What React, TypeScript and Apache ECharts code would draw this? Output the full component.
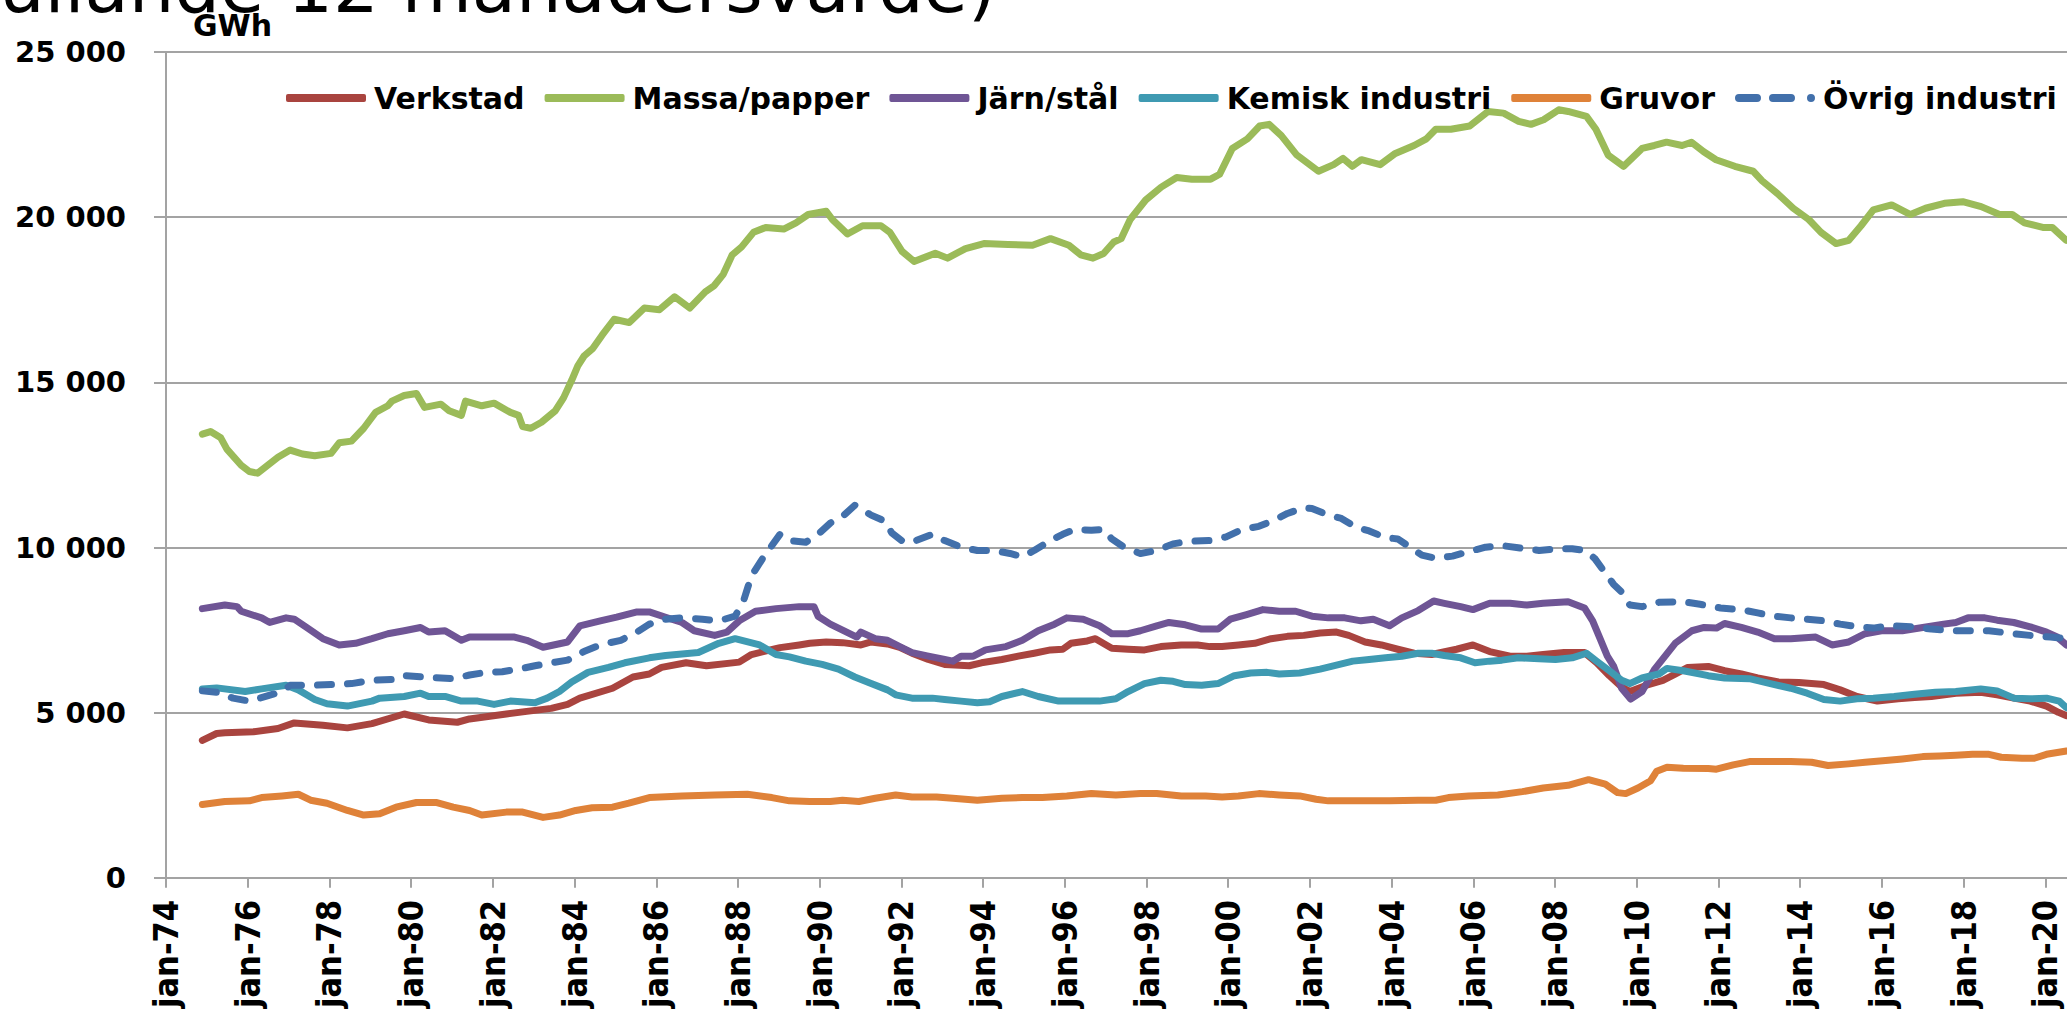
import React, { useEffect, useRef } from 'react';
import * as echarts from 'echarts';

const seriesNames = ['Verkstad', 'Massa/papper', 'Järn/stål', 'Kemisk industri', 'Gruvor', 'Övrig industri'];
const seriesColors = ['#A9443F', '#9BBB59', '#6F5595', '#3F9AB2', '#DF8239', '#4270AB'];

const verkstad: [number, number][] = [
  [1974.89, 4160], [1975.24, 4370], [1975.44, 4390], [1976.14, 4420], [1976.74, 4520], [1977.14, 4690], [1977.84, 4620],
  [1978.44, 4540], [1979.04, 4670], [1979.83, 4960], [1980.43, 4780], [1981.13, 4710], [1981.43, 4810], [1982.33, 4960],
  [1982.83, 5040], [1983.43, 5130], [1983.83, 5250], [1984.13, 5440], [1984.93, 5740], [1985.43, 6080], [1985.83, 6170],
  [1986.13, 6370], [1986.73, 6510], [1987.23, 6420], [1988.03, 6530], [1988.33, 6760], [1989.03, 6970], [1989.5, 7050],
  [1989.76, 7100], [1990.16, 7140], [1990.56, 7120], [1991.01, 7050], [1991.26, 7140], [1991.66, 7080], [1991.96, 6980],
  [1992.26, 6800], [1992.66, 6610], [1993.06, 6460], [1993.66, 6420], [1993.96, 6510], [1994.46, 6610], [1994.86, 6710],
  [1995.25, 6800], [1995.65, 6900], [1995.95, 6920], [1996.15, 7100], [1996.55, 7170], [1996.75, 7240], [1997.15, 6950],
  [1997.55, 6920], [1997.95, 6900], [1998.35, 7000], [1998.85, 7050], [1999.25, 7050], [1999.55, 7000], [1999.85, 7000],
  [2000.25, 7050], [2000.65, 7100], [2001.05, 7240], [2001.45, 7310], [2001.85, 7340], [2002.25, 7410], [2002.65, 7440],
  [2002.95, 7340], [2003.35, 7140], [2003.75, 7050], [2004.15, 6920], [2004.55, 6800], [2004.98, 6760], [2005.59, 6920],
  [2005.99, 7050], [2006.4, 6850], [2006.9, 6710], [2007.31, 6710], [2007.71, 6760], [2008.22, 6820], [2008.72, 6820],
  [2009.02, 6510], [2009.33, 6120], [2009.63, 5780], [2009.83, 5640], [2010.24, 5830], [2010.64, 5980], [2010.94, 6170],
  [2011.25, 6370], [2011.75, 6400], [2012.15, 6270], [2012.56, 6170], [2012.96, 6050], [2013.47, 5930], [2013.97, 5910],
  [2014.58, 5850], [2014.98, 5690], [2015.39, 5490], [2015.89, 5350], [2016.4, 5420], [2016.8, 5460], [2017.21, 5490],
  [2017.81, 5590], [2018.42, 5620], [2018.82, 5540], [2019.23, 5440], [2019.63, 5350], [2020.03, 5200], [2020.32, 5010],
  [2020.52, 4910],
];

const massaPapper: [number, number][] = [
  [1974.89, 13430], [1975.09, 13510], [1975.34, 13320], [1975.49, 12980], [1975.84, 12490], [1976.04, 12300], [1976.24, 12250],
  [1976.49, 12490], [1976.74, 12730], [1977.04, 12950], [1977.34, 12830], [1977.64, 12780], [1978.04, 12850], [1978.24, 13170],
  [1978.54, 13220], [1978.84, 13610], [1979.13, 14090], [1979.43, 14290], [1979.53, 14430], [1979.83, 14600], [1980.13, 14660],
  [1980.33, 14240], [1980.73, 14340], [1980.93, 14140], [1981.23, 14000], [1981.33, 14430], [1981.73, 14290], [1982.03, 14370],
  [1982.43, 14090], [1982.63, 14000], [1982.73, 13660], [1982.93, 13610], [1983.19, 13790], [1983.53, 14140], [1983.73, 14530],
  [1983.93, 15060], [1984.08, 15500], [1984.23, 15790], [1984.45, 16030], [1984.67, 16420], [1984.97, 16910], [1985.34, 16810],
  [1985.71, 17250], [1986.08, 17200], [1986.45, 17590], [1986.82, 17250], [1987.2, 17740], [1987.42, 17930], [1987.64, 18270],
  [1987.86, 18860], [1988.09, 19100], [1988.38, 19540], [1988.68, 19690], [1989.12, 19640], [1989.42, 19830], [1989.72, 20080],
  [1990.16, 20180], [1990.31, 19930], [1990.68, 19490], [1991.05, 19740], [1991.5, 19740], [1991.72, 19540], [1992.02, 18960],
  [1992.31, 18660], [1992.83, 18910], [1993.13, 18760], [1993.57, 19050], [1994.02, 19200], [1994.61, 19170], [1995.21, 19150],
  [1995.65, 19350], [1996.1, 19150], [1996.39, 18860], [1996.69, 18760], [1996.95, 18900], [1997.2, 19250], [1997.38, 19350],
  [1997.6, 19930], [1997.98, 20520], [1998.36, 20910], [1998.74, 21200], [1999.11, 21150], [1999.57, 21150], [1999.79, 21300],
  [2000.1, 22080], [2000.47, 22370], [2000.77, 22760], [2001.0, 22810], [2001.3, 22470], [2001.68, 21880], [2002.21, 21390],
  [2002.58, 21590], [2002.81, 21780], [2003.04, 21540], [2003.26, 21740], [2003.72, 21590], [2004.09, 21930], [2004.55, 22170],
  [2004.85, 22370], [2005.08, 22660], [2005.45, 22660], [2005.91, 22760], [2006.36, 23200], [2006.74, 23150], [2007.11, 22900],
  [2007.41, 22810], [2007.72, 22950], [2008.09, 23250], [2008.32, 23200], [2008.77, 23050], [2009.0, 22660], [2009.3, 21880],
  [2009.68, 21540], [2010.13, 22080], [2010.43, 22170], [2010.73, 22270], [2011.11, 22170], [2011.34, 22270], [2011.64, 21980],
  [2011.94, 21740], [2012.4, 21540], [2012.85, 21390], [2013.07, 21100], [2013.45, 20710], [2013.83, 20270], [2014.21, 19930],
  [2014.51, 19540], [2014.88, 19200], [2015.19, 19300], [2015.49, 19740], [2015.79, 20220], [2016.24, 20370], [2016.7, 20080],
  [2017.07, 20270], [2017.53, 20420], [2017.98, 20470], [2018.43, 20320], [2018.88, 20080], [2019.19, 20080], [2019.49, 19830],
  [2019.94, 19690], [2020.17, 19690], [2020.51, 19300],
];

const jarnStal: [number, number][] = [
  [1974.89, 8150], [1975.44, 8260], [1975.74, 8210], [1975.84, 8070], [1976.34, 7870], [1976.54, 7730], [1976.94, 7870],
  [1977.14, 7830], [1977.44, 7580], [1977.84, 7240], [1978.24, 7050], [1978.64, 7100], [1979.04, 7240], [1979.43, 7390],
  [1979.83, 7480], [1980.23, 7580], [1980.43, 7440], [1980.83, 7480], [1981.23, 7190], [1981.43, 7290], [1982.33, 7290],
  [1982.53, 7290], [1982.83, 7190], [1983.23, 6980], [1983.83, 7140], [1984.13, 7630], [1984.63, 7780], [1985.03, 7890],
  [1985.53, 8050], [1985.83, 8050], [1986.23, 7890], [1986.63, 7730], [1986.93, 7480], [1987.43, 7340], [1987.73, 7440],
  [1988.03, 7780], [1988.43, 8070], [1988.93, 8150], [1989.5, 8210], [1989.86, 8210], [1989.96, 7920], [1990.26, 7680],
  [1990.66, 7440], [1990.91, 7290], [1991.01, 7440], [1991.36, 7240], [1991.66, 7190], [1991.96, 7000], [1992.26, 6820],
  [1992.66, 6710], [1993.06, 6610], [1993.26, 6560], [1993.46, 6710], [1993.76, 6710], [1994.06, 6900], [1994.56, 7000],
  [1994.96, 7190], [1995.35, 7480], [1995.75, 7680], [1996.05, 7870], [1996.45, 7830], [1996.85, 7630], [1997.15, 7390],
  [1997.55, 7390], [1997.85, 7480], [1998.25, 7630], [1998.55, 7730], [1998.95, 7660], [1999.35, 7530], [1999.75, 7530],
  [2000.05, 7830], [2000.45, 7970], [2000.85, 8120], [2001.25, 8070], [2001.65, 8070], [2002.05, 7920], [2002.45, 7870],
  [2002.85, 7870], [2003.25, 7780], [2003.55, 7830], [2003.95, 7630], [2004.25, 7870], [2004.65, 8090], [2005.03, 8380],
  [2005.29, 8310], [2005.69, 8210], [2005.99, 8120], [2006.4, 8310], [2006.9, 8310], [2007.31, 8260], [2007.71, 8310],
  [2008.32, 8360], [2008.72, 8170], [2008.92, 7780], [2009.12, 7190], [2009.28, 6710], [2009.43, 6420], [2009.63, 5740],
  [2009.85, 5410], [2010.13, 5640], [2010.44, 6320], [2010.94, 7100], [2011.35, 7480], [2011.65, 7580], [2011.95, 7560],
  [2012.15, 7700], [2012.56, 7580], [2012.96, 7440], [2013.37, 7240], [2013.77, 7240], [2014.38, 7290], [2014.78, 7050],
  [2015.19, 7140], [2015.59, 7390], [2015.99, 7480], [2016.5, 7480], [2017.0, 7580], [2017.51, 7680], [2017.81, 7730],
  [2018.11, 7870], [2018.52, 7870], [2018.82, 7800], [2019.23, 7730], [2019.63, 7600], [2020.03, 7440], [2020.29, 7290],
  [2020.52, 7050],
];

const kemiskIndustri: [number, number][] = [
  [1974.89, 5720], [1975.24, 5750], [1975.94, 5640], [1976.34, 5720], [1976.94, 5830], [1977.24, 5690], [1977.64, 5400],
  [1977.94, 5270], [1978.44, 5200], [1979.04, 5350], [1979.23, 5440], [1979.83, 5490], [1980.23, 5590], [1980.43, 5490],
  [1980.83, 5490], [1981.23, 5350], [1981.63, 5350], [1982.03, 5250], [1982.43, 5350], [1983.03, 5300], [1983.33, 5440],
  [1983.63, 5640], [1983.93, 5930], [1984.33, 6220], [1984.83, 6370], [1985.23, 6510], [1985.83, 6660], [1986.23, 6730],
  [1987.03, 6820], [1987.53, 7100], [1987.93, 7240], [1988.53, 7050], [1988.93, 6760], [1989.26, 6690], [1989.66, 6560],
  [1990.06, 6460], [1990.46, 6320], [1990.86, 6080], [1991.26, 5880], [1991.66, 5690], [1991.86, 5540], [1992.26, 5440],
  [1992.76, 5440], [1993.06, 5400], [1993.46, 5350], [1993.86, 5300], [1994.16, 5330], [1994.46, 5490], [1994.96, 5640],
  [1995.35, 5490], [1995.85, 5350], [1996.25, 5350], [1996.85, 5350], [1997.25, 5420], [1997.55, 5640], [1997.95, 5880],
  [1998.35, 5980], [1998.65, 5950], [1998.95, 5850], [1999.35, 5830], [1999.75, 5880], [2000.15, 6120], [2000.55, 6200],
  [2000.95, 6220], [2001.25, 6170], [2001.75, 6200], [2002.25, 6320], [2002.65, 6440], [2003.05, 6560], [2003.45, 6610],
  [2003.85, 6660], [2004.25, 6710], [2004.65, 6800], [2004.98, 6800], [2005.29, 6730], [2005.69, 6660], [2006.04, 6510],
  [2006.4, 6560], [2006.7, 6590], [2007.1, 6660], [2007.61, 6630], [2008.01, 6610], [2008.42, 6660], [2008.77, 6800],
  [2009.02, 6560], [2009.33, 6270], [2009.63, 5980], [2009.83, 5880], [2010.13, 6050], [2010.54, 6170], [2010.74, 6340],
  [2011.14, 6270], [2011.75, 6120], [2012.15, 6050], [2012.76, 6030], [2013.27, 5880], [2013.77, 5740], [2014.17, 5590],
  [2014.58, 5400], [2014.98, 5350], [2015.39, 5420], [2015.79, 5440], [2016.3, 5490], [2016.8, 5560], [2017.31, 5620],
  [2017.81, 5640], [2018.42, 5720], [2018.82, 5660], [2019.23, 5440], [2019.63, 5420], [2020.03, 5440], [2020.34, 5350],
  [2020.52, 5150],
];

const gruvor: [number, number][] = [
  [1974.89, 2220], [1975.44, 2310], [1976.04, 2330], [1976.34, 2430], [1976.84, 2480], [1977.24, 2530], [1977.54, 2350],
  [1977.94, 2260], [1978.44, 2040], [1978.84, 1900], [1979.23, 1940], [1979.63, 2140], [1980.13, 2280], [1980.63, 2280],
  [1981.03, 2140], [1981.43, 2040], [1981.73, 1900], [1982.33, 1990], [1982.73, 1990], [1983.23, 1830], [1983.63, 1900],
  [1984.03, 2040], [1984.43, 2120], [1984.93, 2140], [1985.33, 2260], [1985.83, 2430], [1986.63, 2480], [1987.43, 2510],
  [1988.23, 2530], [1988.83, 2430], [1989.26, 2330], [1989.76, 2310], [1990.26, 2310], [1990.56, 2350], [1990.96, 2310],
  [1991.36, 2410], [1991.86, 2510], [1992.26, 2450], [1992.86, 2450], [1993.26, 2410], [1993.86, 2350], [1994.46, 2410],
  [1994.96, 2430], [1995.45, 2430], [1996.05, 2480], [1996.65, 2550], [1997.25, 2510], [1997.85, 2550], [1998.25, 2550],
  [1998.85, 2480], [1999.45, 2480], [1999.85, 2450], [2000.25, 2480], [2000.75, 2550], [2001.25, 2510], [2001.75, 2480],
  [2002.15, 2380], [2002.45, 2330], [2003.25, 2330], [2003.95, 2330], [2004.65, 2350], [2005.08, 2350], [2005.39, 2430],
  [2005.89, 2480], [2006.6, 2510], [2007.2, 2610], [2007.71, 2720], [2008.32, 2800], [2008.82, 2970], [2009.23, 2840],
  [2009.53, 2580], [2009.73, 2550], [2010.03, 2720], [2010.34, 2940], [2010.49, 3230], [2010.74, 3350], [2011.14, 3320],
  [2011.75, 3310], [2011.95, 3290], [2012.36, 3420], [2012.76, 3520], [2013.27, 3520], [2013.77, 3520], [2014.28, 3500],
  [2014.68, 3400], [2015.19, 3450], [2015.59, 3500], [2016.09, 3550], [2016.5, 3600], [2017.0, 3670], [2017.41, 3690],
  [2017.81, 3710], [2018.22, 3740], [2018.62, 3740], [2018.92, 3650], [2019.43, 3620], [2019.73, 3620], [2020.03, 3740],
  [2020.52, 3840],
];

const ovrigIndustri: [number, number][] = [
  [1974.89, 5660], [1975.24, 5620], [1975.64, 5440], [1976.04, 5350], [1976.44, 5490], [1976.84, 5640], [1977.04, 5830],
  [1977.54, 5830], [1978.04, 5850], [1978.54, 5880], [1979.04, 5980], [1979.63, 6010], [1979.83, 6120], [1980.33, 6080],
  [1980.73, 6050], [1981.03, 6030], [1981.43, 6140], [1981.83, 6220], [1982.23, 6240], [1982.63, 6320], [1983.03, 6420],
  [1983.43, 6510], [1983.83, 6590], [1984.23, 6850], [1984.63, 7050], [1985.13, 7190], [1985.53, 7440], [1985.83, 7680],
  [1986.23, 7830], [1986.63, 7870], [1987.13, 7830], [1987.53, 7780], [1987.93, 7920], [1988.13, 8360], [1988.33, 9140],
  [1988.63, 9720], [1989.03, 10400], [1989.27, 10210], [1989.66, 10160], [1989.96, 10400], [1990.26, 10740], [1990.56, 10940],
  [1990.86, 11280], [1991.26, 10980], [1991.61, 10790], [1991.76, 10450], [1992.06, 10160], [1992.36, 10210], [1992.76, 10400],
  [1993.06, 10210], [1993.46, 10010], [1993.86, 9910], [1994.26, 9910], [1994.66, 9820], [1994.96, 9720], [1995.25, 9910],
  [1995.65, 10210], [1995.95, 10400], [1996.25, 10550], [1996.65, 10520], [1996.95, 10550], [1997.15, 10260], [1997.45, 10010],
  [1997.85, 9820], [1998.25, 9910], [1998.65, 10110], [1999.05, 10190], [1999.55, 10210], [1999.95, 10320], [2000.35, 10550],
  [2000.75, 10640], [2001.15, 10840], [2001.45, 11030], [2001.85, 11200], [2002.05, 11180], [2002.45, 10980], [2002.75, 10890],
  [2003.15, 10600], [2003.45, 10500], [2003.85, 10300], [2004.15, 10260], [2004.45, 10010], [2004.74, 9770], [2005.08, 9670],
  [2005.49, 9740], [2005.99, 9910], [2006.3, 10010], [2006.7, 10060], [2007.1, 9990], [2007.61, 9910], [2008.01, 9960],
  [2008.42, 9960], [2008.72, 9910], [2008.97, 9670], [2009.17, 9330], [2009.43, 8890], [2009.63, 8650], [2009.83, 8260],
  [2010.13, 8210], [2010.54, 8340], [2011.14, 8360], [2011.55, 8280], [2012.05, 8170], [2012.56, 8120], [2012.96, 8020],
  [2013.37, 7920], [2013.77, 7870], [2014.17, 7830], [2014.58, 7780], [2014.98, 7680], [2015.39, 7600], [2015.79, 7560],
  [2016.2, 7630], [2016.8, 7600], [2017.21, 7530], [2017.81, 7480], [2018.62, 7480], [2019.23, 7390], [2019.63, 7340],
  [2020.13, 7290], [2020.52, 7240],
];

const seriesData = [verkstad, massaPapper, jarnStal, kemiskIndustri, gruvor, ovrigIndustri];

const titleText = '(rullande 12 månadersvärde)';
const unitText = 'GWh';
const xMin = 1974;
const xMax = 2022;
const xStep = 2;
const yMax = 25000;
const yStep = 5000;

const dashIcon = 'path://M4,0 h18 a4,4 0 0 1 0,8 h-18 a4,4 0 0 1 0,-8 z M38,0 h18 a4,4 0 0 1 0,8 h-18 a4,4 0 0 1 0,-8 z M76,0 a4,4 0 0 1 0,8 a4,4 0 0 1 0,-8 z';

export default function App() {
  const ref = useRef<HTMLDivElement>(null);
  useEffect(() => {
    if (!ref.current) return;
    const chart = echarts.init(ref.current, null, { renderer: 'svg' });
    const gray = '#a3a3a3';
    chart.setOption({
      animation: false,
      backgroundColor: '#ffffff',
      graphic: [
        {
          type: 'text',
          x: 996,
          y: -13,
          style: {
            text: titleText,
            font: 'normal 72px "DejaVu Sans"',
            fill: '#000',
            textAlign: 'right',
            textVerticalAlign: 'middle',
          },
        },
        {
          type: 'text',
          x: 193,
          y: 25,
          style: {
            text: unitText,
            font: 'bold 30px "DejaVu Sans"',
            fill: '#000',
            textAlign: 'left',
            textVerticalAlign: 'middle',
          },
        },
      ],
      legend: {
        left: 281,
        top: 78,
        itemWidth: 80,
        itemHeight: 8,
        itemGap: 20,
        data: seriesNames.map((name, i) => ({ name, icon: i === 5 ? dashIcon : 'roundRect' })),
        textStyle: {
          fontFamily: 'DejaVu Sans',
          fontWeight: 'bold',
          fontSize: 30,
          color: '#000',
          padding: [0, 0, 0, 3],
        },
      },
      grid: { left: 166, top: 52, bottom: 104, right: 123, containLabel: false },
      xAxis: {
        type: 'value',
        min: xMin,
        max: xMax,
        interval: xStep,
        splitLine: { show: false },
        axisLine: { show: true, lineStyle: { color: gray, width: 2 } },
        axisTick: { show: true, length: 10, lineStyle: { color: gray, width: 2 } },
        axisLabel: {
          rotate: 90,
          margin: 22,
          fontFamily: '"Liberation Sans Narrow", "Arial Narrow", "DejaVu Sans Condensed", sans-serif',
          fontWeight: 'bold',
          fontSize: 34,
          color: '#000',
          formatter: (v: number) => 'jan-' + String(Math.round(v) % 100).padStart(2, '0'),
        },
      },
      yAxis: {
        type: 'value',
        min: 0,
        max: yMax,
        interval: yStep,
        splitLine: { show: true, lineStyle: { color: gray, width: 2 } },
        axisLine: { show: true, lineStyle: { color: gray, width: 2 } },
        axisTick: { show: true, length: 12, lineStyle: { color: gray, width: 2 } },
        axisLabel: {
          margin: 40,
          fontFamily: 'DejaVu Sans',
          fontWeight: 'bold',
          fontSize: 29,
          color: '#000',
          formatter: (v: number) => (v === 0 ? '0' : `${v / 1000} 000`),
        },
      },
      series: seriesNames.map((name, i) => ({
        name,
        type: 'line',
        data: seriesData[i],
        symbol: 'none',
        showSymbol: false,
        color: seriesColors[i],
        itemStyle: { color: seriesColors[i] },
        lineStyle: {
          color: seriesColors[i],
          width: 7,
          cap: 'round',
          join: 'round',
          type: i === 5 ? [14, 16] : 'solid',
        },
      })),
    });
    return () => chart.dispose();
  }, []);
  return (
    <div
      style={{
        position: 'fixed',
        left: 0,
        top: 0,
        width: 2067,
        height: 1011,
        overflow: 'hidden',
        background: '#ffffff',
      }}
    >
      <div ref={ref} style={{ width: 2250, height: 1011 }} />
    </div>
  );
}
